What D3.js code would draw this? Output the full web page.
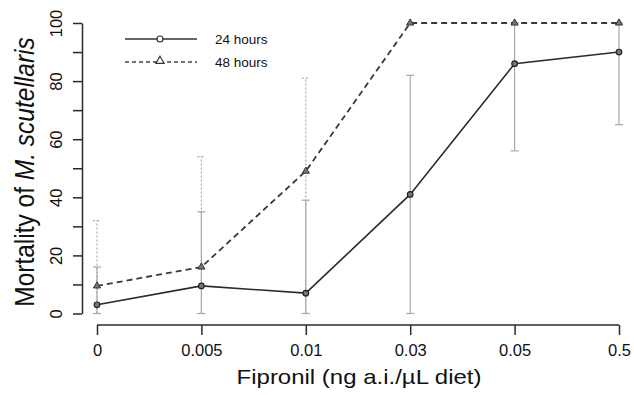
<!DOCTYPE html>
<html>
<head>
<meta charset="utf-8">
<script src="https://cdn.jsdelivr.net/npm/d3@7"></script>
<style>
	body { margin: 0; background: #fff; }
	svg { display: block; font-family: "Liberation Sans", Arial, sans-serif; }
</style>
</head>
<body>
<div id="chart"></div>
<script>
// doses on the x axis (equally spaced categories)
const doses = ["0", "0.005", "0.01", "0.03", "0.05", "0.5"];
// 24 hours: mean mortality and error bar ends
const mort24 = [3, 9.5, 7, 41, 86, 90];
const low24 = [0, 0, 0, 0, 56, 65];
const high24 = [16, 35, 39, 82, 100, 100];
// 48 hours
const mort48 = [9.5, 16, 49, 100, 100, 100];
const low48 = [0, 0, 0, 100, 100, 100];
const high48 = [32, 54, 81, 100, 100, 100];
const yTicks = [0, 10, 20, 30, 40, 50, 60, 70, 80, 90, 100];

const width = 634, height = 395;

const svg = d3.select("#chart")
	.append("svg")
	.attr("width", width)
	.attr("height", height);

const x = d3.scalePoint().domain(doses).range([97, 619]);
const y = d3.scaleLinear().domain([0, 100]).range([313.5, 23]);

const axisCol = "#2a2a2a";

// y axis
const yAxis = svg.append("g")
	.attr("transform", "translate(82,0)")
	.call(d3.axisLeft(y).tickValues(yTicks).tickSize(9).tickSizeOuter(0)
		.tickFormat(d => d % 20 === 0 ? d : ""));
yAxis.select(".domain").attr("stroke", axisCol).attr("stroke-width", 1.5);
yAxis.selectAll(".tick line").attr("stroke", axisCol).attr("stroke-width", 1.5);
yAxis.selectAll(".tick text")
	.attr("fill", "#111")
	.style("font-size", "16.5px")
	.attr("transform", "rotate(-90)")
	.attr("x", 0)
	.attr("y", -20)
	.attr("dy", 0)
	.attr("text-anchor", "middle");

// x axis
const xAxis = svg.append("g")
	.attr("transform", "translate(0,325)")
	.call(d3.axisBottom(x).tickSize(10).tickSizeOuter(0));
xAxis.select(".domain").attr("stroke", axisCol).attr("stroke-width", 1.5)
	.attr("d", `M${x(doses[0])},0H${x(doses[doses.length - 1])}`);
xAxis.selectAll(".tick line").attr("stroke", axisCol).attr("stroke-width", 1.5);
xAxis.selectAll(".tick text")
	.attr("fill", "#111")
	.style("font-size", "16.5px")
	.attr("y", 19);

// axis titles
svg.append("text")
	.attr("transform", "translate(359,383.5) scale(1.2,1)")
	.attr("text-anchor", "middle")
	.attr("fill", "#111")
	.style("font-size", "20px")
	.text("Fipronil (ng a.i./µL diet)");

const ylab = svg.append("text")
	.attr("transform", "translate(34,172) rotate(-90) scale(1,1.1)")
	.attr("text-anchor", "middle")
	.attr("fill", "#111")
	.style("font-size", "24.5px");
ylab.append("tspan").text("Mortality of ");
ylab.append("tspan").style("font-style", "italic").text("M. scutellaris");

// error bars
function errorBars(lo, hi, dash) {
	const g = svg.append("g")
		.attr("stroke", "#a8a8a8")
		.attr("stroke-width", 1.2)
		.attr("stroke-dasharray", dash);
	doses.forEach((d, i) => {
		if (hi[i] === lo[i]) return;
		g.append("line")
			.attr("x1", x(d)).attr("x2", x(d))
			.attr("y1", y(lo[i])).attr("y2", y(hi[i]));
		[lo[i], hi[i]].forEach(v => {
			g.append("line")
				.attr("x1", x(d) - 4).attr("x2", x(d) + 4)
				.attr("y1", y(v)).attr("y2", y(v))
				.attr("stroke-dasharray", null);
		});
	});
}
errorBars(low48, high48, "2,2");
errorBars(low24, high24, null);

// lines
const line = d3.line().x((d, i) => x(doses[i])).y(d => y(d));

svg.append("path")
	.datum(mort48)
	.attr("d", line)
	.attr("fill", "none")
	.attr("stroke", "#3a3a3a")
	.attr("stroke-width", 1.8)
	.attr("stroke-dasharray", "6,4");

svg.append("path")
	.datum(mort24)
	.attr("d", line)
	.attr("fill", "none")
	.attr("stroke", "#2a2a2a")
	.attr("stroke-width", 1.6);

const tri = d3.symbol().type(d3.symbolTriangle).size(22);

svg.selectAll(".pt48")
	.data(mort48)
	.join("path")
	.attr("class", "pt48")
	.attr("d", tri)
	.attr("transform", (d, i) => `translate(${x(doses[i])},${y(d)})`)
	.attr("fill", "#777")
	.attr("stroke", "#333")
	.attr("stroke-width", 1);

svg.selectAll(".pt24")
	.data(mort24)
	.join("circle")
	.attr("class", "pt24")
	.attr("cx", (d, i) => x(doses[i]))
	.attr("cy", d => y(d))
	.attr("r", 2.8)
	.attr("fill", "#777")
	.attr("stroke", "#222")
	.attr("stroke-width", 1.2);

// legend
const leg = svg.append("g");
leg.append("line")
	.attr("x1", 125).attr("x2", 197).attr("y1", 39).attr("y2", 39)
	.attr("stroke", "#333").attr("stroke-width", 1.5);
leg.append("circle")
	.attr("cx", 160).attr("cy", 39).attr("r", 3)
	.attr("fill", "#fff").attr("stroke", "#333").attr("stroke-width", 1.2);
leg.append("line")
	.attr("x1", 125).attr("x2", 197).attr("y1", 62).attr("y2", 62)
	.attr("stroke", "#444").attr("stroke-width", 1.3)
	.attr("stroke-dasharray", "4,3");
leg.append("path")
	.attr("d", d3.symbol().type(d3.symbolTriangle).size(30))
	.attr("transform", "translate(160,61)")
	.attr("fill", "#fff").attr("stroke", "#333").attr("stroke-width", 1.1);
leg.append("text").attr("x", 215).attr("y", 44)
	.style("font-size", "13.5px").attr("fill", "#111").text("24 hours");
leg.append("text").attr("x", 215).attr("y", 67)
	.style("font-size", "13.5px").attr("fill", "#111").text("48 hours");
</script>
</body>
</html>
